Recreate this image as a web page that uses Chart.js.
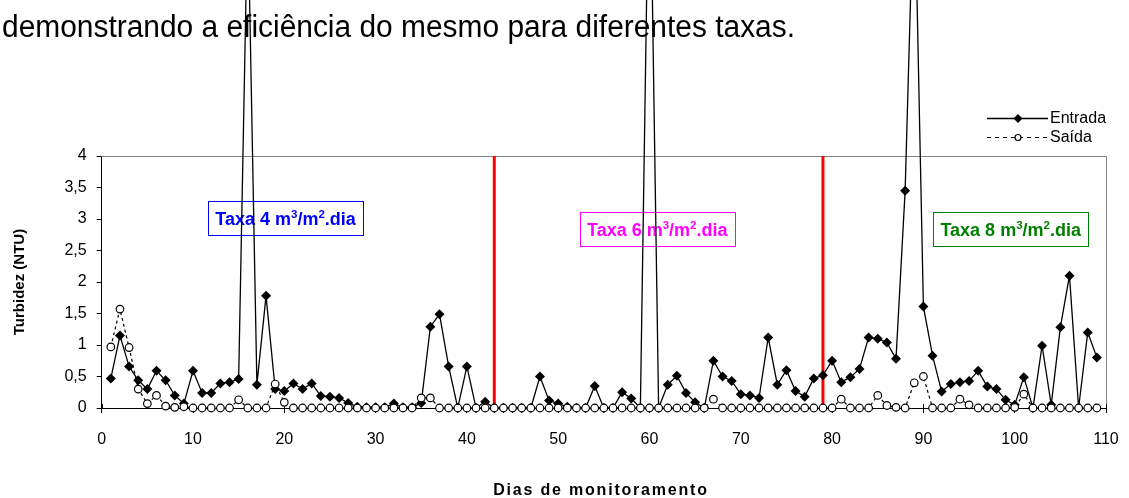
<!DOCTYPE html>
<html lang="pt">
<head>
<meta charset="utf-8">
<title>Turbidez - Entrada e Saída</title>
<script src="https://cdn.jsdelivr.net/npm/chart.js@4.4.1/dist/chart.umd.min.js"></script>
<style>
  html, body { margin: 0; padding: 0; background: #fff; }
  #wrap { position: relative; width: 1129px; height: 498px; overflow: hidden; }
  canvas { display: block; }
</style>
</head>
<body>
<div id="wrap"><canvas id="chart" width="1129" height="498"></canvas></div>
<script>
// Monitoring days
const days = [
  1, 2, 3, 4, 5, 6, 7, 8, 9, 10, 11, 12, 13, 14, 15, 16, 17, 18, 19, 20,
  21, 22, 23, 24, 25, 26, 27, 28, 29, 30, 31, 32, 33, 34, 35, 36, 37, 38, 39, 40,
  41, 42, 43, 44, 45, 46, 47, 48, 49, 50, 51, 52, 53, 54, 55, 56, 57, 58, 59, 60,
  61, 62, 63, 64, 65, 66, 67, 68, 69, 70, 71, 72, 73, 74, 75, 76, 77, 78, 79, 80,
  81, 82, 83, 84, 85, 86, 87, 88, 89, 90, 91, 92, 93, 94, 95, 96, 97, 98, 99, 100,
  101, 102, 103, 104, 105, 106, 107, 108, 109
];

// Inflow turbidity (NTU)
const entrada = [
  0.47, 1.15, 0.66, 0.44, 0.30, 0.59, 0.44, 0.20, 0.07, 0.59,
  0.24, 0.24, 0.39, 0.41, 0.46, 8.0, 0.37, 1.78, 0.30, 0.27,
  0.39, 0.30, 0.39, 0.19, 0.18, 0.16, 0.08, 0.02, 0.01, 0.01,
  0.01, 0.07, 0.01, 0.01, 0.08, 1.29, 1.49, 0.66, 0.0, 0.66,
  0.0, 0.10, 0.0, 0.0, 0.0, 0.0, 0.0, 0.50, 0.12, 0.07,
  0.02, 0.0, 0.0, 0.35, 0.0, 0.0, 0.25, 0.15, 0.0, 9.5,
  0.0, 0.37, 0.51, 0.24, 0.09, 0.0, 0.75, 0.50, 0.43, 0.22,
  0.20, 0.16, 1.12, 0.37, 0.60, 0.27, 0.18, 0.47, 0.52, 0.75,
  0.41, 0.49, 0.62, 1.12, 1.10, 1.04, 0.78, 3.45, 8.6, 1.61,
  0.83, 0.26, 0.38, 0.41, 0.43, 0.59, 0.34, 0.30, 0.13, 0.05,
  0.49, 0.0, 0.99, 0.05, 1.28, 2.10, 0.0, 1.20, 0.80
];

// Outflow turbidity (NTU)
const saida = [
  0.97, 1.57, 0.96, 0.30, 0.07, 0.20, 0.03, 0.01, 0.02, 0.0,
  0.0, 0.0, 0.0, 0.0, 0.13, 0.0, 0.0, 0.0, 0.38, 0.09,
  0.0, 0.0, 0.0, 0.0, 0.0, 0.0, 0.0, 0.0, 0.0, 0.0,
  0.0, 0.0, 0.0, 0.0, 0.16, 0.16, 0.0, 0.0, 0.0, 0.0,
  0.0, 0.0, 0.0, 0.0, 0.0, 0.0, 0.0, 0.0, 0.0, 0.0,
  0.0, 0.0, 0.0, 0.0, 0.0, 0.0, 0.0, 0.0, 0.0, 0.0,
  0.0, 0.0, 0.0, 0.0, 0.0, 0.0, 0.14, 0.0, 0.0, 0.0,
  0.0, 0.0, 0.0, 0.0, 0.0, 0.0, 0.0, 0.0, 0.0, 0.0,
  0.14, 0.0, 0.0, 0.0, 0.20, 0.04, 0.01, 0.0, 0.40, 0.50,
  0.0, 0.0, 0.0, 0.14, 0.05, 0.0, 0.0, 0.0, 0.0, 0.01,
  0.22, 0.0, 0.0, 0.0, 0.0, 0.0, 0.0, 0.0, 0.0
];

// Axis tick labels
const xTickLabels = ['0', '10', '20', '30', '40', '50', '60', '70', '80', '90', '100', '110'];
const yTickLabels = ['0', '0,5', '1', '1,5', '2', '2,5', '3', '3,5', '4'];

// Days where the filtration rate changes
const phaseBoundaries = [43, 79];

// Rate labels: text runs (normal / superscript) and colours
const phaseLabels = [
  { runs: [['Taxa 4 m', 0], ['3', 1], ['/m', 0], ['2', 1], ['.dia', 0]], color: '#0000FF' },
  { runs: [['Taxa 6 m', 0], ['3', 1], ['/m', 0], ['2', 1], ['.dia', 0]], color: '#FF00FF' },
  { runs: [['Taxa 8 m', 0], ['3', 1], ['/m', 0], ['2', 1], ['.dia', 0]], color: '#008000' }
];
// Where each rate label sits (day, NTU at the box centre)
const phaseLabelAnchors = [
  { day: 20.14, value: 3.01 },
  { day: 60.85, value: 2.84 },
  { day: 99.56, value: 2.84 }
];

const captionText = 'demonstrando a eficiência do mesmo para diferentes taxas.';
const FONT = '"Liberation Sans", Arial, Helvetica, sans-serif';

const pts = (vals) => days.map((d, i) => ({ x: d, y: vals[i] }));

const decorations = {
  id: 'decorations',
  beforeDraw(chart) {
    const { ctx } = chart;
    ctx.save();
    ctx.fillStyle = '#fff';
    ctx.fillRect(0, 0, chart.width, chart.height);
    // running text of the page above the chart
    ctx.font = '31px ' + FONT;
    const w = ctx.measureText(captionText).width;
    ctx.translate(2, 37);
    ctx.scale(793 / w, 1);
    ctx.fillStyle = '#000';
    ctx.textBaseline = 'alphabetic';
    ctx.fillText(captionText, 0, 0);
    ctx.restore();
  },
  beforeDatasetsDraw(chart) {
    const { ctx, chartArea: a, scales: { x, y } } = chart;
    ctx.save();
    // plot-area frame (top and right)
    ctx.strokeStyle = '#808080';
    ctx.lineWidth = 1;
    ctx.beginPath();
    ctx.moveTo(a.left, a.top + 0.5);
    ctx.lineTo(a.right + 0.5, a.top + 0.5);
    ctx.lineTo(a.right + 0.5, a.bottom);
    ctx.stroke();

    // inner half of the crossing x tick marks
    ctx.strokeStyle = '#000';
    ctx.beginPath();
    for (let v = 0; v <= 110; v += 10) {
      const px = Math.round(x.getPixelForValue(v)) + 0.5;
      ctx.moveTo(px, a.bottom - 4);
      ctx.lineTo(px, a.bottom);
    }
    ctx.stroke();

    // rate-change markers
    ctx.strokeStyle = '#FF0000';
    ctx.lineWidth = 3;
    phaseBoundaries.forEach(d => {
      const px = x.getPixelForValue(d);
      ctx.beginPath();
      ctx.moveTo(px, y.getPixelForValue(4));
      ctx.lineTo(px, y.getPixelForValue(0));
      ctx.stroke();
    });

    // rate labels in boxes
    const mainSize = 18, supSize = 11.5;
    phaseLabels.forEach((lab, i) => {
      let total = 0;
      const widths = lab.runs.map(([t, sup]) => {
        ctx.font = 'bold ' + (sup ? supSize : mainSize) + 'px ' + FONT;
        const ww = ctx.measureText(t).width;
        total += ww;
        return ww;
      });
      const cx = x.getPixelForValue(phaseLabelAnchors[i].day);
      const cy = y.getPixelForValue(phaseLabelAnchors[i].value);
      const bw = total + 14, bh = 34;
      ctx.strokeStyle = lab.color;
      ctx.lineWidth = 1;
      ctx.strokeRect(Math.round(cx - bw / 2) + 0.5, Math.round(cy - bh / 2) + 0.5, Math.round(bw), bh);
      let tx = cx - total / 2;
      const base = cy + 6.5;
      ctx.fillStyle = lab.color;
      ctx.textBaseline = 'alphabetic';
      ctx.textAlign = 'left';
      lab.runs.forEach(([t, sup], k) => {
        ctx.font = 'bold ' + (sup ? supSize : mainSize) + 'px ' + FONT;
        ctx.fillText(t, tx, sup ? base - 7 : base);
        tx += widths[k];
      });
    });

    // axis titles
    ctx.fillStyle = '#000';
    ctx.textBaseline = 'middle';
    ctx.textAlign = 'center';
    ctx.font = 'bold 16px ' + FONT;
    if ('letterSpacing' in ctx) ctx.letterSpacing = '1.8px';
    ctx.fillText('Dias de monitoramento', 601, 491);
    if ('letterSpacing' in ctx) ctx.letterSpacing = '0px';
    ctx.font = 'bold 15px ' + FONT;
    ctx.save();
    ctx.translate(20, 282);
    ctx.rotate(-Math.PI / 2);
    ctx.fillText('Turbidez (NTU)', 0, 0);
    ctx.restore();
    ctx.restore();
  },
  afterDraw(chart) {
    const { ctx } = chart;
    ctx.save();
    const x0 = 987, x1 = 1048, xm = 1018;
    // Entrada
    ctx.strokeStyle = '#000';
    ctx.lineWidth = 1.3;
    ctx.beginPath();
    ctx.moveTo(x0, 118.5); ctx.lineTo(x1, 118.5);
    ctx.stroke();
    ctx.fillStyle = '#000';
    ctx.beginPath();
    ctx.moveTo(xm, 114); ctx.lineTo(xm + 4.5, 118.5); ctx.lineTo(xm, 123); ctx.lineTo(xm - 4.5, 118.5);
    ctx.closePath();
    ctx.fill();
    // Saída
    ctx.setLineDash([4, 4]);
    ctx.lineWidth = 1.2;
    ctx.beginPath();
    ctx.moveTo(x0, 137.5); ctx.lineTo(x1, 137.5);
    ctx.stroke();
    ctx.setLineDash([]);
    ctx.fillStyle = '#fff';
    ctx.beginPath();
    ctx.arc(xm, 137.5, 3, 0, Math.PI * 2);
    ctx.fill();
    ctx.stroke();
    // legend text
    ctx.fillStyle = '#000';
    ctx.font = '16px ' + FONT;
    ctx.textAlign = 'left';
    ctx.textBaseline = 'middle';
    ctx.fillText('Entrada', 1050, 118.5);
    ctx.fillText('Saída', 1050, 137.5);
    ctx.restore();
  }
};

new Chart(document.getElementById('chart'), {
  type: 'line',
  data: {
    datasets: [
      {
        label: 'Entrada',
        data: pts(entrada),
        borderColor: '#000',
        borderWidth: 1.3,
        tension: 0,
        pointStyle: 'rectRot',
        pointRadius: 5,
        pointBackgroundColor: '#000',
        pointBorderColor: '#000',
        pointBorderWidth: 0,
        clip: false,
        order: 2
      },
      {
        label: 'Saída',
        data: pts(saida),
        borderColor: '#000',
        borderWidth: 1.2,
        borderDash: [3, 3],
        tension: 0,
        pointStyle: 'circle',
        pointRadius: 3.8,
        pointBackgroundColor: '#fff',
        pointBorderColor: '#000',
        pointBorderWidth: 1.2,
        clip: false,
        order: 1
      }
    ]
  },
  options: {
    responsive: false,
    animation: false,
    events: [],
    layout: { padding: { top: 156, right: 23, left: 0, bottom: 0 } },
    plugins: { legend: { display: false }, tooltip: { enabled: false } },
    scales: {
      x: {
        type: 'linear',
        min: 0,
        max: 110,
        afterFit: s => { s.height = 90; s.paddingLeft = 0; s.paddingRight = 0; },
        border: { display: true, color: '#000', width: 1 },
        grid: { drawOnChartArea: false, drawTicks: true, tickLength: 5, color: '#000' },
        ticks: {
          stepSize: 10,
          padding: 17,
          color: '#000',
          font: { family: FONT, size: 16 },
          callback: (v, i) => xTickLabels[i]
        }
      },
      y: {
        min: 0,
        max: 4,
        afterFit: s => { s.width = 101.7; s.paddingTop = 0; s.paddingBottom = 0; },
        border: { display: true, color: '#000', width: 1 },
        grid: { drawOnChartArea: false, drawTicks: true, tickLength: 5, color: '#000' },
        ticks: {
          stepSize: 0.5,
          padding: 10,
          color: '#000',
          font: { family: FONT, size: 16 },
          callback: (v, i) => yTickLabels[i]
        }
      }
    }
  },
  plugins: [decorations]
});
</script>
</body>
</html>
